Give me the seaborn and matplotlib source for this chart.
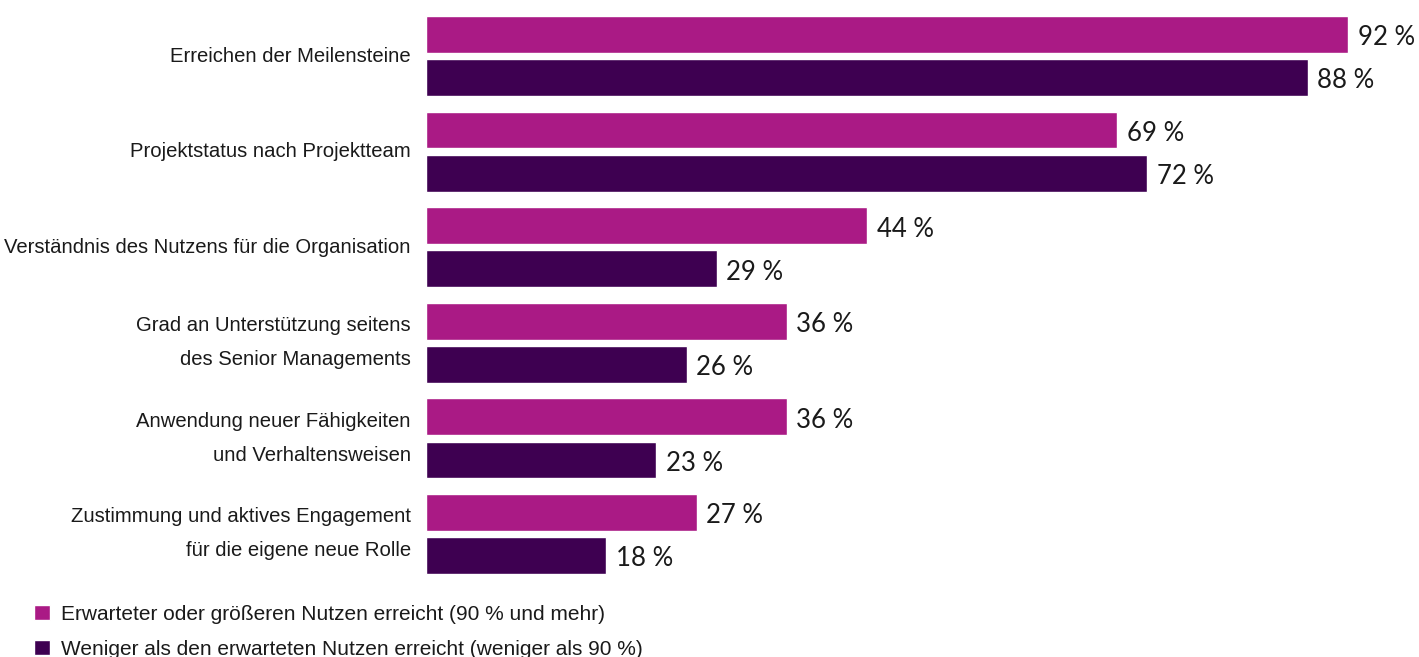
import matplotlib
matplotlib.use("Agg")
import matplotlib.pyplot as plt
import seaborn as sns
import pandas as pd

categories = [
    "Erreichen der Meilensteine",
    "Projektstatus nach Projektteam",
    "Verständnis des Nutzens für die Organisation",
    "Grad an Unterstützung seitens\ndes Senior Managements",
    "Anwendung neuer Fähigkeiten\nund Verhaltensweisen",
    "Zustimmung und aktives Engagement\nfür die eigene neue Rolle",
]
series_names = [
    "Erwarteter oder größeren Nutzen erreicht (90 % und mehr)",
    "Weniger als den erwarteten Nutzen erreicht (weniger als 90 %)",
]
values_high = [92, 69, 44, 36, 36, 27]
values_low = [88, 72, 29, 26, 23, 18]
colors = ["#AA1A85", "#3E0051"]

df = pd.DataFrame({
    "Kategorie": categories * 2,
    "Wert": values_high + values_low,
    "Gruppe": [series_names[0]] * len(categories) + [series_names[1]] * len(categories),
})

sns.set_theme(style="white")
plt.rcParams["font.family"] = ["Liberation Sans", "DejaVu Sans"]

W, H = 1419, 657
fig = plt.figure(figsize=(W / 100, H / 100), dpi=100)
ax_left = 426 / W
ax_bottom = (H - 590) / H
ax = fig.add_axes([ax_left, ax_bottom, 1 - ax_left, 590 / H])

sns.barplot(data=df, y="Kategorie", x="Wert", hue="Gruppe", orient="h",
            palette=colors, width=0.9, gap=0.145, saturation=1, ax=ax)

ax.set_xlim(0, (W - 426) / 10.02)
ax.set_ylim(5.586, -0.586)
for s in ax.spines.values():
    s.set_visible(False)
ax.set_xlabel("")
ax.set_ylabel("")
ax.set_xticks([])
ax.tick_params(axis="y", length=0, pad=11, labelsize=14.6, labelcolor="#1a1a1a")
for lbl in ax.get_yticklabels():
    lbl.set_linespacing(2.0)
    lbl.set_verticalalignment("center")

for cont in ax.containers:
    texts = ax.bar_label(cont, fmt="{:.0f} %", padding=7, fontsize=18.5,
                         family=["Lato", "DejaVu Sans"], color="#1a1a1a")
    for t in texts:
        t.xyann = (7, -2.5)

handles, labels = ax.get_legend_handles_labels()
ax.legend_.remove()
fig.legend(handles, labels, loc="upper left", bbox_to_anchor=(34 / W, 1 - 605 / H),
           frameon=False, fontsize=15, handlelength=0.75, handleheight=0.75,
           handletextpad=0.55, labelspacing=0.76, borderpad=0, borderaxespad=0,
           labelcolor="#1a1a1a")

fig.savefig("out.png", dpi=100)
